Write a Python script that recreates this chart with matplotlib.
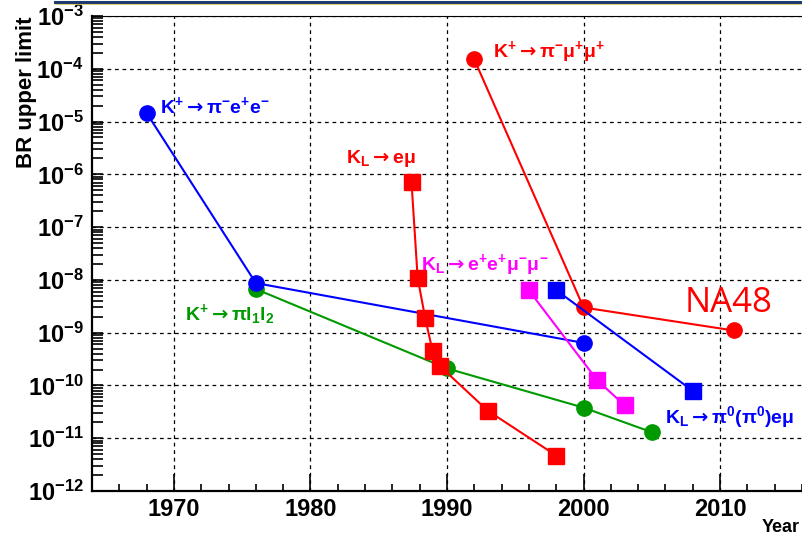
import numpy as np
import matplotlib
matplotlib.use("Agg")
import matplotlib.pyplot as plt
from matplotlib.ticker import FixedLocator, FuncFormatter, LogLocator, NullFormatter
from matplotlib.lines import Line2D

plt.rcParams['font.family'] = ['Liberation Sans', 'DejaVu Sans']
plt.rcParams['font.weight'] = 'bold'
plt.rcParams['mathtext.fontset'] = 'custom'
plt.rcParams['mathtext.rm'] = 'Liberation Sans:bold'
plt.rcParams['mathtext.bf'] = 'Liberation Sans:bold'
plt.rcParams['mathtext.it'] = 'Liberation Sans:bold'
plt.rcParams['mathtext.sf'] = 'DejaVu Sans'

# upper limits on branching ratios vs. year of publication
kp_pee_year = [1968, 1976, 2000]
kp_pee_br = [1.45e-5, 8.7e-9, 6.4e-10]

kp_pll_year = [1976, 1990, 2000, 2005]
kp_pll_br = [6.7e-9, 2.1e-10, 3.8e-11, 1.3e-11]

kp_pmm_year = [1992, 2000, 2011]
kp_pmm_br = [1.5e-4, 3.0e-9, 1.1e-9]

kl_em_year = [1987.4, 1987.85, 1988.4, 1988.95, 1989.5, 1993, 1998]
kl_em_br = [7.1e-7, 1.1e-8, 1.9e-9, 4.4e-10, 2.3e-10, 3.3e-11, 4.7e-12]

kl_eemm_year = [1996, 2001, 2003]
kl_eemm_br = [6.3e-9, 1.26e-10, 4.2e-11]

kl_ppem_year = [1998, 2008]
kl_ppem_br = [6.4e-9, 7.9e-11]

fig = plt.figure(figsize=(8.03, 5.35), dpi=100)
ax = fig.add_axes([92/803, 44/535, 710/803, 475/535])

green = "#009a00"
lw = 1.5
ms = 11

ax.plot(kp_pee_year, kp_pee_br, '-o', color='blue', lw=lw, ms=ms, zorder=5)
ax.plot(kp_pll_year, kp_pll_br, '-o', color=green, lw=lw, ms=ms, zorder=4)
ax.plot(kp_pmm_year, kp_pmm_br, '-o', color='red', lw=lw, ms=ms, zorder=5)
ax.plot(kl_em_year, kl_em_br, '-s', color='red', lw=lw, ms=ms, zorder=5)
ax.plot(kl_eemm_year, kl_eemm_br, '-s', color='magenta', lw=lw, ms=ms, zorder=5)
ax.plot(kl_ppem_year, kl_ppem_br, '-s', color='blue', lw=lw, ms=ms, zorder=5)

ax.set_yscale('log')
ax.set_xlim(1964, 2016)
ax.set_ylim(1e-12, 1e-3)

ax.xaxis.set_major_locator(FixedLocator([1970, 1980, 1990, 2000, 2010]))
ax.xaxis.set_minor_locator(FixedLocator(np.arange(1964, 2017, 2)))
ax.yaxis.set_major_locator(LogLocator(base=10, numticks=20))
ax.yaxis.set_minor_locator(LogLocator(base=10, subs=np.arange(2, 10), numticks=20))
ax.yaxis.set_minor_formatter(NullFormatter())
ax.yaxis.set_major_formatter(FuncFormatter(lambda v, p: r'$\mathbf{10^{%d}}$' % round(np.log10(v))))

ax.tick_params(axis='x', which='major', direction='in', length=12, width=1.2,
               labelsize=17, pad=5, top=False)
ax.tick_params(axis='x', which='minor', direction='in', length=5, width=1.2, top=False)
ax.tick_params(axis='y', which='both', direction='in', length=8, width=1.2,
               labelsize=17, pad=6, right=False)

ax.grid(True, which='major', color='black', linestyle=(0, (3, 3)), lw=0.9)

for side in ['left', 'bottom']:
    ax.spines[side].set_linewidth(1.6)
ax.spines['top'].set_linewidth(0.8)
ax.spines['right'].set_visible(False)

fig.text(27/803, 1 - 17/535, "BR upper limit", rotation=90, ha='center', va='top',
         fontsize=16, fontweight='bold')
fig.text(800/803, 1 - 528/535, "Year", ha='right', va='center', fontsize=13,
         fontweight='bold')

# decay channel labels
arrow = r'{\mathsf{\rightarrow}}'
fs = 14
ax.text(1968.98, 2.0e-5, r'$\mathbf{K^{+}' + arrow + r'\pi^{-}e^{+}e^{-}}$', color='blue',
        fontsize=fs, va='center')
ax.text(1993.4, 2.1e-4, r'$\mathbf{K^{+}' + arrow + r'\pi^{-}\mu^{+}\mu^{+}}$', color='red',
        fontsize=fs, va='center')
ax.text(1982.6, 2.0e-6, r'$\mathbf{K_{L}' + arrow + r'e\mu}$', color='red',
        fontsize=fs, va='center')
ax.text(1988.1, 1.9e-8, r'$\mathbf{K_{L}' + arrow + r'e^{+}e^{+}\mu^{-}\mu^{-}}$', color='magenta',
        fontsize=fs, va='center')
ax.text(1970.8, 2.2e-9, r'$\mathbf{K^{+}' + arrow + r'\pi l_{1}l_{2}}$', color=green,
        fontsize=fs, va='center')
ax.text(2005.95, 2.5e-11, r'$\mathbf{K_{L}' + arrow + r'\pi^{0}(\pi^{0})e\mu}$', color='blue',
        fontsize=fs, va='center')
ax.text(2007.4, 3.6e-9, "NA48", color='red', fontsize=25, va='center',
        fontweight='medium', family=['Open Sans', 'DejaVu Sans'])

# slide border along the top
fig.add_artist(Line2D([55/803, 1], [1 - 1.5/535, 1 - 1.5/535], color='#1f3a6e', lw=2.2))
fig.add_artist(Line2D([55/803, 1], [1 - 3.5/535, 1 - 3.5/535], color='#d8c860', lw=0.6))

fig.savefig("out.png", dpi=100)
